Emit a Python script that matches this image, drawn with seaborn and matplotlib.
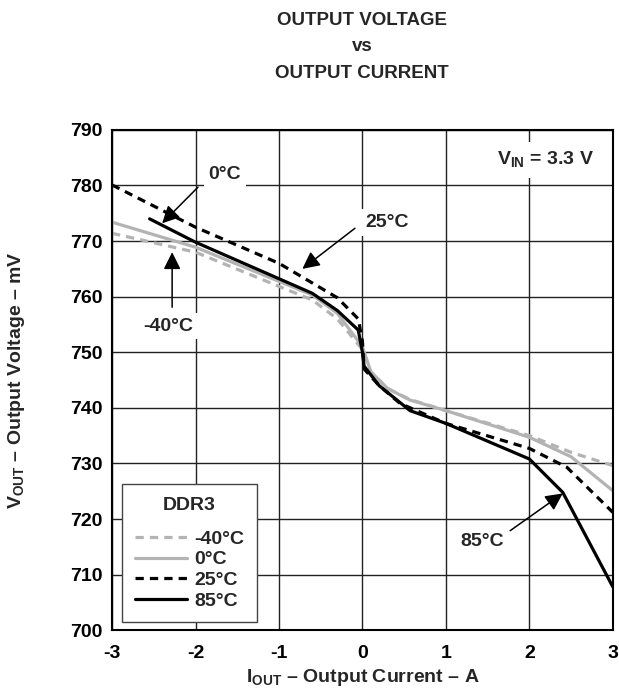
import numpy as np
import pandas as pd
import matplotlib
matplotlib.use("Agg")
import matplotlib.pyplot as plt
import seaborn as sns
from matplotlib.lines import Line2D

# ---- data ----
x_m40 = [-3.0, -2.0, -0.6, -0.3, 0.0, 0.1, 0.3, 0.57, 1.0, 2.0, 2.5, 3.0]
y_m40 = [771.4, 768.0, 759.4, 756.0, 750.5, 746.5, 743.5, 741.5, 739.5, 735.0, 732.0, 729.6]

x_0 = [-3.0, -2.0, -0.6, -0.3, 0.0, 0.1, 0.3, 0.57, 1.0, 2.0, 2.5, 3.0]
y_0 = [773.4, 768.9, 760.3, 757.0, 751.0, 746.5, 743.5, 741.4, 739.5, 734.7, 731.2, 725.1]

x_25 = [-3.0, -2.0, -1.0, -0.3, -0.05, 0.0, 0.02, 0.2, 0.45, 1.0, 2.0, 2.45, 3.0]
y_25 = [780.1, 772.5, 766.0, 759.8, 756.0, 752.0, 747.0, 744.0, 740.8, 737.2, 732.7, 729.3, 721.2]

x_85 = [-2.55, -2.0, -0.6, -0.3, -0.05, 0.0, 0.02, 0.2, 0.57, 1.0, 2.0, 2.4, 3.0]
y_85 = [774.0, 769.8, 760.6, 757.5, 754.0, 750.0, 747.5, 744.0, 739.5, 737.2, 730.8, 724.8, 707.8]

series_labels = ["-40°C", "0°C", "25°C", "85°C"]
x_ticks = [-3, -2, -1, 0, 1, 2, 3]
y_ticks = [700, 710, 720, 730, 740, 750, 760, 770, 780, 790]

frames = []
for lab, xs, ys in zip(series_labels, [x_m40, x_0, x_25, x_85], [y_m40, y_0, y_25, y_85]):
    frames.append(pd.DataFrame({"I": xs, "V": ys, "T": lab}))
df = pd.concat(frames, ignore_index=True)

# ---- styling ----
sns.set_theme(style="white")
plt.rcParams['font.family'] = ['Liberation Sans', 'DejaVu Sans']
plt.rcParams['font.weight'] = 'bold'
plt.rcParams['mathtext.fontset'] = 'custom'
plt.rcParams['mathtext.bf'] = 'Liberation Sans:bold'
plt.rcParams['mathtext.rm'] = 'Liberation Sans:bold'

FS = 14
gray = "#b3b3b3"
palette = {"-40°C": gray, "0°C": gray, "25°C": "black", "85°C": "black"}
dash = (2.6, 1.9)
dashes = {"-40°C": dash, "0°C": "", "25°C": dash, "85°C": ""}

fig = plt.figure(figsize=(6.19, 6.91), dpi=100)
ax = fig.add_axes([0.181, 0.088, 0.809, 0.724])

sns.lineplot(data=df, x="I", y="V", hue="T", style="T", palette=palette,
             dashes=dashes, sort=False, estimator=None, lw=2.3, legend=False, ax=ax)

ax.set_xlim(-3, 3)
ax.set_ylim(700, 790)
ax.set_xticks(x_ticks)
ax.set_yticks(y_ticks)
ax.set_xticklabels([str(t) for t in x_ticks], fontsize=FS, fontweight='bold')
ax.set_yticklabels([str(t) for t in y_ticks], fontsize=FS, fontweight='bold')
ax.tick_params(length=0, colors='black')
ax.tick_params(axis='x', pad=11)
ax.tick_params(axis='y', pad=7)
ax.set_axisbelow(True)
ax.grid(True, color="#222222", lw=1.0)
for s in ax.spines.values():
    s.set_color("black")
    s.set_linewidth(1.5)

ax.set_xlabel(r"I$_{\mathbf{OUT}}$ – Output Current – A", fontsize=14, fontweight='bold', labelpad=3)
ax.set_ylabel(r"V$_{\mathbf{OUT}}$ – Output Voltage – mV", fontsize=14, fontweight='bold')
ax.yaxis.set_label_coords(-0.17, 0.5)

fig.text(0.585, 0.983, "OUTPUT VOLTAGE\nvs\nOUTPUT CURRENT", ha='center', va='top',
         fontsize=13.5, fontweight='bold', linespacing=1.75)

# ---- annotations ----
bb = dict(boxstyle="square,pad=0.25", fc="white", ec="none")
ap = dict(arrowstyle="-|>", mutation_scale=26, lw=1.1, color="black", shrinkA=0, shrinkB=0)

ax.text(-1.65, 781.9, "0°C", ha='center', va='center', fontsize=FS, fontweight='bold', bbox=bb)
ax.annotate("", xy=(-2.40, 773.2), xytext=(-1.97, 779.7), arrowprops=ap)

ax.text(0.29, 773.4, "25°C", ha='center', va='center', fontsize=FS, fontweight='bold', bbox=bb)
ax.annotate("", xy=(-0.72, 765.0), xytext=(-0.09, 772.3), arrowprops=ap)

ax.text(-2.33, 754.7, "-40°C", ha='center', va='center', fontsize=FS, fontweight='bold', bbox=bb)
ax.annotate("", xy=(-2.28, 768.0), xytext=(-2.28, 758.1), arrowprops=ap)

ax.text(1.43, 716.0, "85°C", ha='center', va='center', fontsize=FS, fontweight='bold', bbox=bb)
ax.annotate("", xy=(2.40, 724.6), xytext=(1.77, 717.9), arrowprops=ap)

ax.text(2.19, 784.6, r"V$_{\mathbf{IN}}$ = 3.3 V", ha='center', va='center', fontsize=FS,
        fontweight='bold', bbox=dict(boxstyle="square,pad=0.4", fc="white", ec="none"))

# ---- legend ----
handles = [Line2D([0], [0], color=palette[l], lw=2.3,
                  linestyle=(0, dashes[l]) if dashes[l] else '-') for l in series_labels]
leg = ax.legend(handles, series_labels, title="DDR3", loc='lower left',
                bbox_to_anchor=(0.02, 0.016), borderaxespad=0, handlelength=2.7,
                prop={'weight': 'bold', 'size': 14}, title_fontproperties={'weight': 'bold', 'size': 14},
                frameon=True, fancybox=False, framealpha=1, edgecolor="#444444",
                labelspacing=0.15, handletextpad=0.35, borderpad=0.65)
leg.get_frame().set_linewidth(1.0)
leg._legend_box.sep = 12

fig.savefig("out.png", dpi=100)
